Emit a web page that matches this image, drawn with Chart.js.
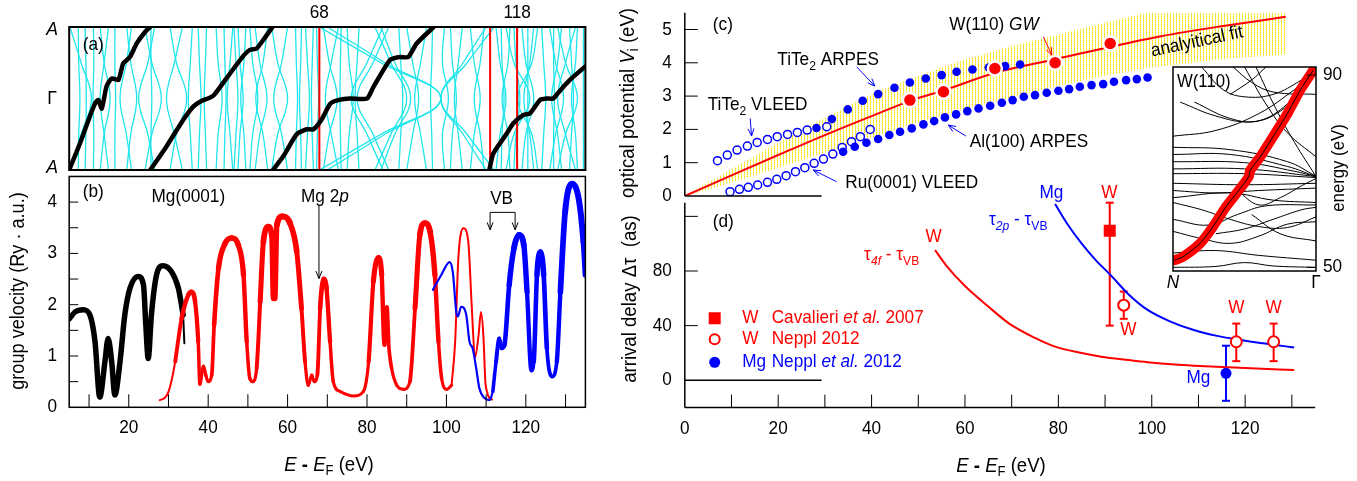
<!DOCTYPE html>
<html>
<head>
<meta charset="utf-8">
<script src="https://cdn.jsdelivr.net/npm/chart.js@4.4.1/dist/chart.umd.min.js"></script>
<style>
  body { margin: 0; background: #fff; }
  #wrap { position: relative; width: 1357px; height: 481px; }
  canvas { position: absolute; left: 0; top: 0; }
</style>
</head>
<body>
<div id="wrap">
  <canvas id="cA" width="1357" height="481"></canvas>
  <canvas id="cB" width="1357" height="481"></canvas>
  <canvas id="cC" width="1357" height="481"></canvas>
  <canvas id="cD" width="1357" height="481"></canvas>
  <canvas id="cI" width="1357" height="481"></canvas>
</div>
<script>
const W = 1357, H = 481;
const FONT = '"Liberation Sans", Arial, Helvetica, sans-serif';
const SX = 0.93;   // text is a little narrow in the original
const RED = '#ff0000', BLUE = '#0000ff', CYAN = '#1fe6ec';

// ---------- (a) Mg bands along A - Γ - A ----------
const kSteps = [-1, -0.5, 0, 0.5, 1];
// each band: energy at A, halfway, at Γ (mirrored about Γ)
const bandsA = [
  [5.2, 8.0, 10.6], [7.3, 7.4, 7.7], [9.0, 9.2, 9.3], [11.1, 11.2, 11.0],
  [12.8, 13.8, 15.3], [14.9, 13.8, 12.8], [16.5, 16.5, 16.7], [20.7, 19.4, 17.8],
  [19.5, 20.5, 22.0], [24.1, 25.8, 28.2], [26.5, 24.8, 22.5], [25.6, 25.6, 25.8],
  [30.4, 32.0, 34.6], [33.5, 31.5, 29.5], [36.0, 35.5, 35.0], [37.5, 37.8, 38.2],
  [39.6, 39.3, 39.0], [42.0, 42.5, 43.5], [44.0, 44.2, 44.5], [46.2, 45.5, 44.8],
  [47.5, 48.0, 48.8], [46.5, 47.0, 47.5], [49.5, 49.0, 48.2], [50.5, 51.2, 52.5],
  [51.8, 53.0, 54.8], [55.0, 53.8, 52.0], [56.0, 57.5, 60.0], [60.0, 58.5, 56.5],
  [62.0, 62.2, 62.5], [63.5, 63.3, 63.0], [64.5, 65.0, 65.5], [66.5, 66.2, 66.0],
  [67.3, 67.5, 67.8], [69.0, 70.5, 72.5], [72.8, 71.0, 69.5], [73.5, 73.3, 73.2],
  [68.0, 83.5, 98.6], [70.0, 84.5, 98.6], [84.0, 80.0, 76.0], [85.5, 81.5, 77.5],
  [82.0, 86.0, 90.0], [83.5, 87.0, 91.0], [78.0, 77.5, 77.0], [88.0, 88.5, 89.0],
  [75.0, 75.5, 76.5], [90.0, 91.5, 93.0], [95.0, 93.5, 92.0], [110.0, 104.2, 98.6],
  [112.0, 105.2, 98.6], [101.0, 101.5, 102.5], [104.0, 103.0, 102.0], [106.0, 107.0, 108.5],
  [109.5, 108.5, 107.0], [96.5, 96.3, 96.0], [99.5, 99.0, 100.5], [112.5, 113.5, 115.0],
  [116.0, 115.5, 114.0], [119.0, 120.0, 122.0], [122.0, 121.0, 119.5], [124.0, 124.5, 125.0],
  [126.0, 127.5, 129.5], [129.0, 128.0, 126.5], [131.0, 131.5, 132.0], [133.0, 132.5, 131.5],
  [134.5, 134.5, 134.5], [120.5, 120.5, 120.5], [127.0, 127.0, 127.2], [113.8, 114.0, 114.5],
  [117.0, 117.5, 118.5], [115.0, 117.0, 121.0], [123.0, 121.5, 118.0], [128.0, 130.0, 133.0],
  [132.5, 130.0, 128.0]
];
const aRedE = [68, 111, 117.8];
const aBlack1E = [5.0, 7.7, 10.2, 11.5, 12.3, 13.2, 14.4, 15.7, 17.4, 18.6, 20.3, 22.0, 24.1, 25.4];
const aBlack1K = [-1, -0.63, -0.25, -0.07, -0.02, -0.14, 0.17, 0.28, 0.26, 0.49, 0.58, 0.77, 0.93, 1.0];
const aBlack2E = [25.4, 29.5, 33.7, 36.3, 38.4, 40.4, 41.5, 45.5, 48.9, 50.5, 52.2, 53.9, 56.2];
const aBlack2K = [-1, -0.67, -0.3, -0.11, -0.03, 0.01, 0.05, 0.35, 0.6, 0.68, 0.7, 0.82, 1];
const aBlack3E = [56.3, 59, 62.3, 64.8, 66.5, 68.5, 70.8, 73, 75.7, 80, 81.6, 85.8, 88.3, 90.4, 92.5, 96.8];
const aBlack3K = [-1, -0.8, -0.5, -0.43, -0.43, -0.3, -0.07, -0.02, 0, 0, 0.16, 0.54, 0.58, 0.58, 0.77, 1];
const aBlack4E = [110.8, 111.8, 115.2, 116.8, 119.4, 121.0, 123.6, 125.2, 126.9, 128.6, 131.1, 135];
const aBlack4K = [-1, -0.77, -0.49, -0.35, -0.23, -0.21, -0.02, 0, 0, 0.11, 0.26, 0.45];

// ---------- (b) group velocity ----------
const bBlackE = [5.0, 6.5, 8.5, 10.2, 11.5, 12.7, 14.0, 14.8, 15.7, 16.5, 17.8, 19.0, 20.3, 22.4, 23.7, 24.3, 24.9, 25.7, 27.0, 28.6, 30.8, 32.5, 33.7];
const bBlackV = [1.72, 1.86, 1.90, 1.80, 1.28, 0.20, 0.89, 1.34, 0.89, 0.24, 0.89, 1.80, 2.32, 2.55, 2.39, 1.60, 0.95, 1.80, 2.58, 2.76, 2.64, 2.32, 1.80];
const bBlackTailE = [33.7, 34.0];
const bBlackTailV = [1.80, 1.25];
const bRed0E = [27.8, 29.0, 30.0, 31.0, 31.7];
const bRed0V = [0.14, 0.18, 0.30, 0.60, 0.89];
const bRedE = [31.7, 33.3, 35.0, 35.8, 36.7, 37.5, 37.9, 38.8, 39.4, 40.0, 40.9, 41.5, 42.6, 44.3, 45.9, 47.6, 48.9, 49.7, 50.5, 51.2, 52.2, 53.1, 53.9, 55.2, 56.0, 56.4, 56.8, 57.3, 58.6, 60.6, 62.3, 63.5, 64.4, 65.2, 66.1, 66.7, 67.5, 68.2, 69.1, 69.8, 70.7, 71.5, 73.2, 76.6, 79.1, 80.4, 81.6, 82.9, 83.7, 84.4, 85.0, 85.4, 86.2, 87.5, 89.2, 90.8, 92.1, 93.3, 94.6, 95.9, 97.1, 98.0, 98.8, 100.1, 101.3];
const bRedV = [0.89, 1.73, 2.19, 2.25, 2.06, 1.28, 0.45, 0.80, 0.63, 0.50, 0.63, 1.60, 2.71, 3.20, 3.30, 3.16, 2.58, 1.28, 0.56, 0.50, 0.76, 2.06, 3.23, 3.52, 3.36, 2.12, 2.12, 3.55, 3.72, 3.59, 3.04, 1.93, 0.89, 0.43, 0.63, 0.50, 0.63, 1.93, 2.50, 2.32, 1.28, 0.50, 0.31, 0.22, 0.31, 0.89, 2.45, 2.92, 2.58, 1.22, 1.95, 1.28, 0.76, 0.43, 0.35, 0.50, 1.93, 3.36, 3.59, 3.42, 2.58, 1.28, 0.56, 0.35, 0.43];
const bRed2E = [101.3, 102.2, 103.0, 104.3, 105.5, 106.4, 107.2, 108.1, 108.7, 109.3, 109.8, 110.2, 110.6, 111.5];
const bRed2V = [0.43, 1.28, 2.90, 3.49, 3.23, 1.93, 0.97, 1.41, 1.86, 1.41, 0.50, 0.31, 0.21, 0.15];
const bBlue0E = [96.6, 98.7, 100.8, 101.6, 102.5, 102.9, 103.7, 105.0, 105.8, 106.6, 107.5, 108.3, 109.6, 110.9, 111.7];
const bBlue0V = [2.29, 2.58, 2.83, 2.64, 1.85, 1.77, 1.96, 1.80, 1.28, 1.15, 0.76, 0.37, 0.18, 0.14, 0.31];
const bBlueE = [111.7, 112.5, 113.3, 113.9, 114.6, 115.8, 117.0, 118.3, 119.5, 120.3, 121.4, 122.0, 122.8, 123.7, 124.5, 125.3, 126.6, 127.8, 128.7, 129.9, 131.6, 133.3, 134.5, 135.0];
const bBlueV = [0.31, 0.89, 1.34, 1.15, 1.21, 2.38, 3.10, 3.36, 3.16, 2.25, 0.72, 0.89, 2.58, 3.03, 2.58, 1.15, 0.60, 0.89, 2.25, 3.81, 4.36, 4.07, 3.23, 2.58];
const bTicksX = [20, 40, 60, 80, 100, 120];
const bTicksY = [0, 1, 2, 3, 4];

// ---------- (c) optical potential ----------
const fitE = [0, 10, 20, 30, 40, 48.7, 55.6, 66.5, 79.8, 91.7, 102, 115, 128.7];
const fitV = [0, 0.62, 1.23, 1.83, 2.40, 2.88, 3.18, 3.70, 4.12, 4.50, 4.80, 5.10, 5.38];
const bandE = [0, 10, 20, 30, 40, 50, 60, 70, 80, 90, 100, 115, 128.7];
const bandHi = [0, 0.8, 1.6, 2.35, 3.05, 3.6, 4.1, 4.5, 4.85, 5.2, 5.5, 5.5, 5.5];
const bandLo = [0, 0.4, 0.85, 1.3, 1.75, 2.2, 2.6, 2.95, 3.3, 3.6, 3.85, 4.1, 4.25];
const tiVleedE = [7.0, 9.1, 11.2, 13.4, 15.5, 17.7, 19.8, 22.0, 24.1, 26.2, 30.4];
const tiVleedV = [1.06, 1.23, 1.38, 1.50, 1.61, 1.70, 1.78, 1.85, 1.91, 1.98, 2.08];
const tiArpesE = [28.2, 31.5, 34.9, 38.1, 41.4, 44.9, 48.2, 51.6, 55.0, 58.2, 61.6, 65.1, 68.6, 71.8];
const tiArpesV = [2.04, 2.31, 2.60, 2.86, 3.06, 3.25, 3.41, 3.53, 3.63, 3.73, 3.80, 3.86, 3.90, 3.95];
const ruVleedE = [9.7, 11.7, 13.6, 15.6, 17.7, 19.7, 21.7, 23.7, 25.7, 27.7, 29.7, 31.7, 33.7, 35.7, 37.6, 39.7];
const ruVleedV = [0.13, 0.20, 0.26, 0.33, 0.41, 0.50, 0.61, 0.73, 0.85, 0.98, 1.11, 1.26, 1.46, 1.63, 1.78, 2.00];
const alArpesE = [33.9, 36.4, 38.9, 41.4, 43.8, 46.1, 48.6, 51.1, 53.4, 55.7, 58.1, 60.5, 62.9, 65.4, 67.9, 70.2, 72.6, 75.0, 77.5, 80.0, 82.3, 84.6, 87.1, 89.6, 91.9, 94.5, 96.8, 99.1];
const alArpesV = [1.33, 1.48, 1.60, 1.71, 1.83, 1.93, 2.03, 2.15, 2.25, 2.36, 2.45, 2.55, 2.63, 2.71, 2.80, 2.88, 2.98, 3.03, 3.10, 3.16, 3.21, 3.28, 3.33, 3.36, 3.43, 3.48, 3.51, 3.56];
const gwE = [48.2, 55.4, 66.4, 79.3, 91.1];
const gwV = [2.88, 3.13, 3.83, 4.00, 4.58];
const cTicksY = [0, 1, 2, 3, 4, 5];

// ---------- (d) arrival delay ----------
const mgFitE = [79.3, 82, 85, 88, 91.2, 95, 99.1, 104, 109, 114, 119, 125, 130.5];
const mgFitT = [129, 114, 100, 88, 77, 63, 51.5, 43, 36.8, 32.5, 29.5, 26.5, 24];
const wFitE = [53.6, 56, 60, 65, 69.4, 75, 79.3, 85, 89.2, 95, 99.1, 105, 109, 120, 130.5];
const wFitT = [95.3, 84, 69, 54, 41.7, 31, 24.6, 20, 17.3, 14.8, 13.2, 11.5, 10.7, 9, 7.5];
const cavE = [91.0], cavT = [109.5], cavLo = [40], cavHi = [130];
const nepE = [94.0, 118.1, 126.1], nepT = [55, 28.2, 28.2], nepLo = [45, 14, 14], nepHi = [65, 41.5, 41.5];
const mgE = [115.9], mgT = [5.1], mgLo = [-15], mgHi = [25.3];
const dTicksX = [0, 20, 40, 60, 80, 100, 120];
const dTicksY = [0, 40, 80];

// ---------- inset W(110) bands N - Γ ----------
const insetLines = [
  [[0.05, 84.4], [0.3, 81.5], [0.55, 80.3], [0.75, 82.5], [0.95, 88.5]],
  [[0.15, 84.4], [0.4, 81.0], [0.6, 80.5], [0.8, 84.0], [0.97, 89.5]],
  [[0.5, 91.7], [0.65, 84], [0.8, 78], [1.0, 73]],
  [[0.58, 91.7], [0.72, 83], [0.85, 76], [1.0, 68.9]],
  [[0.42, 91.7], [0.55, 88.5], [0.7, 86.5], [1.0, 86]],
  [[0.4, 86], [0.55, 89], [0.65, 91.7]],
  [[0, 77.3], [0.3, 78.5], [0.6, 82], [0.85, 87], [1.0, 90.5]],
  [[0, 75], [0.4, 74.5], [0.8, 72], [1, 69]],
  [[0, 73.5], [0.4, 73.5], [0.8, 71], [1, 68.9]],
  [[0, 72], [0.5, 71.8], [0.85, 70], [1, 68.9]],
  [[0, 70.5], [0.5, 70.5], [1, 68.9]],
  [[0, 69.5], [0.5, 69.5], [1, 68.7]],
  [[0, 67.5], [0.5, 67.2], [1, 67.5]],
  [[0, 66], [0.3, 65.5], [0.6, 66], [1, 66.5]],
  [[0, 64.5], [0.4, 65.5], [0.7, 64], [1, 63.5]],
  [[0, 63.5], [0.2, 62], [0.4, 60], [0.6, 58.5], [0.8, 58.3], [1, 60.5]],
  [[0.3, 57], [0.5, 58], [0.7, 60], [0.9, 62], [1, 62.5]],
  [[0, 57.5], [0.2, 56], [0.4, 55], [0.6, 56.5], [0.8, 59], [1, 59.5]],
  [[0, 53], [0.3, 53.5], [0.6, 52.5], [1, 51.5]],
  [[0, 50], [0.3, 50.2], [0.5, 51], [0.7, 50.3], [1, 50]],
  [[0.45, 66], [0.6, 63], [0.75, 64.5], [0.9, 67], [1, 68.5]],
  [[0.55, 61], [0.75, 57], [1, 55.5]],
  [[0.2, 91.7], [0.35, 87], [0.5, 85.5], [0.7, 86], [0.9, 89], [1, 91]],
  [[0, 60], [0.25, 58.8], [0.45, 61], [0.65, 62.8], [1, 63]]
];
const insetRedK = [0.01, 0.07, 0.19, 0.28, 0.37, 0.47, 0.53, 0.54, 0.61, 0.70, 0.80, 0.89, 0.98];
const insetRedE = [51.5, 52.2, 55.0, 58.5, 62.6, 66.4, 68.9, 70.2, 73.0, 77.2, 82.0, 86.9, 91.0];

// ---------- helpers ----------
const pts = (xs, ys) => xs.map((x, i) => ({ x: x, y: ys[i] }));

function stack(list) {
  // list is bottom-to-top; chart.js draws lower order on top
  list.forEach((d, i) => { d.order = list.length - i; });
  return list;
}

function text(ctx, parts, x, y, o) {
  o = o || {};
  const size = o.size || 18.5;
  const segs = parts.map(p => typeof p === 'string' ? { t: p, f: '' } : { t: p[0], f: p[1] });
  let w = 0;
  segs.forEach(s => {
    s.sz = s.f.indexOf('s') >= 0 ? Math.round(size * 0.72) : size;
    s.font = (s.f.indexOf('i') >= 0 ? 'italic ' : '') + (s.f.indexOf('b') >= 0 ? 'bold ' : '') + s.sz + 'px ' + FONT;
    ctx.font = s.font;
    s.w = ctx.measureText(s.t).width;
    w += s.w;
  });
  ctx.save();
  ctx.translate(x, y);
  if (o.rot) ctx.rotate(o.rot * Math.PI / 180);
  ctx.scale(SX, 1);
  let cx = o.align === 'left' ? 0 : o.align === 'right' ? -w : -w / 2;
  ctx.fillStyle = o.color || '#000';
  ctx.textAlign = 'left';
  ctx.textBaseline = 'middle';
  segs.forEach(s => {
    ctx.font = s.font;
    ctx.fillText(s.t, cx, s.f.indexOf('s') >= 0 ? size * 0.32 : 0);
    cx += s.w;
  });
  ctx.restore();
}

function seg(ctx, x1, y1, x2, y2, color, w) {
  ctx.save();
  ctx.strokeStyle = color || '#000';
  ctx.lineWidth = w || 1;
  ctx.beginPath(); ctx.moveTo(x1, y1); ctx.lineTo(x2, y2); ctx.stroke();
  ctx.restore();
}

function arrow(ctx, x1, y1, x2, y2, color) {
  seg(ctx, x1, y1, x2, y2, color, 1);
  const a = Math.atan2(y2 - y1, x2 - x1), L = 8, s = 0.38;
  seg(ctx, x2, y2, x2 - L * Math.cos(a - s), y2 - L * Math.sin(a - s), color, 1);
  seg(ctx, x2, y2, x2 - L * Math.cos(a + s), y2 - L * Math.sin(a + s), color, 1);
}

// label / arrow in data coordinates
function T(c, parts, xv, yv, o) {
  text(c.ctx, parts, c.scales.x.getPixelForValue(xv), c.scales.y.getPixelForValue(yv), o);
}
function Arr(c, x1, y1, x2, y2, color) {
  const sx = c.scales.x, sy = c.scales.y;
  arrow(c.ctx, sx.getPixelForValue(x1), sy.getPixelForValue(y1), sx.getPixelForValue(x2), sy.getPixelForValue(y2), color);
}

function errBars(c, xs, lo, hi, color) {
  const ctx = c.ctx, sx = c.scales.x, sy = c.scales.y;
  xs.forEach((x, i) => {
    const X = sx.getPixelForValue(x), y1 = sy.getPixelForValue(lo[i]), y2 = sy.getPixelForValue(hi[i]);
    seg(ctx, X, y1, X, y2, color, 2);
    seg(ctx, X - 4, y1, X + 4, y1, color, 2);
    seg(ctx, X - 4, y2, X + 4, y2, color, 2);
  });
}

function vWidth(arr, base) {
  return c => Math.min(6, base + 0.9 * (arr[c.p0DataIndex].y + arr[c.p1DataIndex].y) / 2);
}

function dotPattern() {
  // thin vertical yellow stipple on white, like the original shading
  const p = document.createElement('canvas');
  p.width = 3; p.height = 2;
  const g = p.getContext('2d');
  g.fillStyle = '#fffef8'; g.fillRect(0, 0, 3, 2);
  g.fillStyle = '#f6e000'; g.fillRect(0, 0, 1, 1);
  g.fillStyle = '#fbef70'; g.fillRect(0, 1, 1, 1);
  return g.createPattern(p, 'repeat');
}

function makeChart(id, box, xr, yr, datasets, draw, under) {
  return new Chart(document.getElementById(id), {
    type: 'line',
    data: { datasets: datasets },
    options: {
      responsive: false,
      animation: false,
      devicePixelRatio: 1,
      layout: { padding: { left: box[0], top: box[1], right: W - box[2], bottom: H - box[3] } },
      plugins: { legend: { display: false }, tooltip: { enabled: false } },
      elements: { point: { radius: 0, hoverRadius: 0 }, line: { borderWidth: 1 } },
      scales: {
        x: { type: 'linear', display: false, min: xr[0], max: xr[1] },
        y: { type: 'linear', display: false, min: yr[0], max: yr[1] }
      }
    },
    plugins: [{
      id: 'deco' + id,
      beforeDatasetsDraw: c => { if (under) under(c); },
      afterDraw: c => draw(c)
    }]
  });
}

// ---------- panel (a) ----------
const cyanSets = bandsA.map(b => ({
  data: pts([b[0], b[1], b[2], b[1], b[0]], kSteps),
  borderColor: CYAN, borderWidth: 1.3, tension: 0.4, pointRadius: 0
}));
const redLines = aRedE.map(e => ({
  data: pts([e, e], [-1, 1]), borderColor: RED, borderWidth: 2, pointRadius: 0
}));
const blackA = [[aBlack1E, aBlack1K], [aBlack2E, aBlack2K], [aBlack3E, aBlack3K], [aBlack4E, aBlack4K]].map(s => ({
  data: pts(s[0], s[1]), borderColor: '#000', borderWidth: 4.5, tension: 0.2,
  borderCapStyle: 'round', borderJoinStyle: 'round', pointRadius: 0
}));

makeChart('cA', [69.2, 27, 585.4, 170], [5, 135], [-1, 1],
  stack([].concat(cyanSets, redLines, blackA)),
  c => {
    const ctx = c.ctx, a = c.chartArea;
    ctx.save();
    ctx.strokeStyle = '#000'; ctx.lineWidth = 2;
    ctx.strokeRect(a.left, a.top, a.right - a.left, a.bottom - a.top);
    ctx.restore();
    text(ctx, [['A', 'i']], a.left - 17, a.top + 3, { size: 19 });
    text(ctx, ['Γ'], a.left - 17, (a.top + a.bottom) / 2, { size: 19 });
    text(ctx, [['A', 'i']], a.left - 17, a.bottom - 2, { size: 19 });
    text(ctx, ['68'], c.scales.x.getPixelForValue(68), a.top - 14);
    text(ctx, ['118'], c.scales.x.getPixelForValue(117.8), a.top - 14);
    T(c, ['(a)'], 8.4, 0.75, { align: 'left' });
  });

// ---------- panel (b) ----------
const bRedPts = pts(bRedE, bRedV), bBluePts = pts(bBlueE, bBlueV);
const lineStyle = { pointRadius: 0, cubicInterpolationMode: 'monotone', borderCapStyle: 'round', borderJoinStyle: 'round' };
makeChart('cB', [69.2, 176.45, 585.4, 407.3], [5, 135], [0, 4.5],
  stack([
    Object.assign({ data: pts(bBlackE, bBlackV), borderColor: '#000', borderWidth: 5.5 }, lineStyle),
    Object.assign({ data: pts(bBlackTailE, bBlackTailV), borderColor: '#000', borderWidth: 2 }, lineStyle),
    Object.assign({ data: pts(bRed0E, bRed0V), borderColor: RED, borderWidth: 2 }, lineStyle),
    Object.assign({ data: bRedPts, borderColor: RED, borderWidth: 5, segment: { borderWidth: vWidth(bRedPts, 2.7) } }, lineStyle),
    Object.assign({ data: pts(bRed2E, bRed2V), borderColor: RED, borderWidth: 2 }, lineStyle),
    Object.assign({ data: pts(bBlue0E, bBlue0V), borderColor: BLUE, borderWidth: 2.2 }, lineStyle),
    Object.assign({ data: bBluePts, borderColor: BLUE, borderWidth: 5, segment: { borderWidth: vWidth(bBluePts, 3) } }, lineStyle)
  ]),
  c => {
    const ctx = c.ctx, a = c.chartArea, sx = c.scales.x, sy = c.scales.y;
    ctx.save();
    ctx.strokeStyle = '#000'; ctx.lineWidth = 1.5;
    ctx.strokeRect(a.left, a.top, a.right - a.left, a.bottom - a.top);
    ctx.restore();
    for (let v = 0.5; v <= 4.01; v += 0.5) {
      const y = sy.getPixelForValue(v);
      seg(ctx, a.left, y, a.left + 9, y, '#000', 1);
    }
    for (let e = 10; e <= 130; e += 10) {
      const x = sx.getPixelForValue(e);
      seg(ctx, x, a.bottom, x, a.bottom - 13, '#000', 1);
    }
    bTicksY.forEach(v => text(ctx, [String(v)], a.left - 17, sy.getPixelForValue(v)));
    bTicksX.forEach(e => text(ctx, [String(e)], sx.getPixelForValue(e), a.bottom + 21));
    T(c, ['(b)'], 8.4, 4.2, { align: 'left' });
    T(c, ['Mg(0001)'], 35.0, 4.1);
    T(c, ['Mg 2', ['p', 'i']], 69.4, 4.1);
    Arr(c, 67.9, 3.94, 67.9, 2.51, '#000');
    T(c, ['VB'], 113.9, 4.07);
    const x1 = sx.getPixelForValue(111), x2 = sx.getPixelForValue(117.3), yb = sy.getPixelForValue(3.8);
    seg(ctx, x1, yb, x2, yb, '#000', 1);
    Arr(c, 111, 3.8, 111, 3.46, '#000');
    Arr(c, 117.3, 3.8, 117.3, 3.46, '#000');
    text(ctx, ['group velocity (Ry · a.u.)'], 19, 291, { size: 19.5, rot: -90 });
    text(ctx, [['E', 'i'], ' ', ['-', 'b'], ' ', ['E', 'i'], ['F', 's'], ' (eV)'], 329, 465, { size: 20 });
  });

// ---------- panel (c) ----------
const openBlue = { showLine: false, pointRadius: 4, pointBorderWidth: 1.5, pointBorderColor: BLUE, pointBackgroundColor: '#fff' };
const fullBlue = { showLine: false, pointRadius: 4.3, pointBorderWidth: 0, pointBackgroundColor: BLUE };
makeChart('cC', [684.8, 12.85, 1315.2, 196], [0, 135], [0, 5.5],
  stack([
    { data: pts(bandE, bandLo), borderWidth: 0, pointRadius: 0, tension: 0.3, fill: false },
    { data: pts(bandE, bandHi), borderWidth: 0, pointRadius: 0, tension: 0.3, fill: '-1', backgroundColor: dotPattern() },
    { data: pts(fitE, fitV), borderColor: RED, borderWidth: 2, pointRadius: 0, cubicInterpolationMode: 'monotone' },
    Object.assign({ data: pts(ruVleedE, ruVleedV) }, openBlue),
    Object.assign({ data: pts(tiVleedE, tiVleedV) }, openBlue),
    Object.assign({ data: pts(tiArpesE, tiArpesV) }, fullBlue),
    Object.assign({ data: pts(alArpesE, alArpesV) }, fullBlue),
    { data: pts(gwE, gwV), showLine: false, pointRadius: 7, pointBorderWidth: 2.5, pointBorderColor: '#fff', pointBackgroundColor: RED }
  ]),
  c => {
    const ctx = c.ctx, a = c.chartArea, sx = c.scales.x, sy = c.scales.y;
    seg(ctx, a.left, a.top, a.left, a.bottom, '#000', 1.5);
    seg(ctx, a.left, a.bottom, sx.getPixelForValue(29.3), a.bottom, '#000', 1.5);
    for (let v = 1; v <= 5; v++) {
      const y = sy.getPixelForValue(v);
      seg(ctx, a.left, y, a.left + 13, y, '#000', 1);
    }
    cTicksY.forEach(v => text(ctx, [String(v)], a.left - 13, sy.getPixelForValue(v), { align: 'right' }));
    T(c, ['(c)'], 6.0, 5.13, { align: 'left' });
    T(c, ['W(110) ', ['GW', 'i']], 66.2, 5.13);
    Arr(c, 76.8, 4.78, 78.6, 4.23, RED);
    T(c, ['TiTe', ['2', 's'], ' ARPES'], 30.7, 4.08);
    Arr(c, 36.8, 3.88, 40.7, 3.3, BLUE);
    T(c, ['TiTe', ['2', 's'], ' VLEED'], 15.6, 2.73);
    Arr(c, 14.0, 2.33, 14.3, 1.8, BLUE);
    T(c, ['Al(100) ARPES'], 73.7, 1.63);
    Arr(c, 60.2, 1.8, 56.4, 2.13, BLUE);
    T(c, ['Ru(0001) VLEED'], 48.6, 0.38);
    Arr(c, 32.5, 0.43, 27.5, 0.78, BLUE);
    T(c, ['analyitical fit'], 109.7, 4.63, { rot: -12 });
    text(ctx, ['optical potential ', ['V', 'i'], ['i', 's'], ' (eV)'], 628, 103, { size: 20, rot: -90 });
  });

// ---------- panel (d) ----------
makeChart('cD', [684.8, 202.7, 1315.2, 407.6], [0, 135], [-20, 130],
  stack([
    { data: pts(wFitE, wFitT), borderColor: RED, borderWidth: 2, pointRadius: 0, cubicInterpolationMode: 'monotone' },
    { data: pts(mgFitE, mgFitT), borderColor: BLUE, borderWidth: 2, pointRadius: 0, cubicInterpolationMode: 'monotone' },
    { data: pts(cavE, cavT), showLine: false, pointStyle: 'rect', pointRadius: 8.5, pointBorderWidth: 0, pointBackgroundColor: RED },
    { data: pts(nepE, nepT), showLine: false, pointRadius: 5.5, pointBorderWidth: 2, pointBorderColor: RED, pointBackgroundColor: '#fff' },
    { data: pts(mgE, mgT), showLine: false, pointRadius: 5.5, pointBorderWidth: 0, pointBackgroundColor: BLUE }
  ]),
  c => {
    const ctx = c.ctx, a = c.chartArea, sx = c.scales.x, sy = c.scales.y;
    seg(ctx, a.left, a.top, a.left, a.bottom, '#000', 1.5);
    seg(ctx, a.left, a.bottom, a.right, a.bottom, '#000', 1.5);
    seg(ctx, a.left, sy.getPixelForValue(0), sx.getPixelForValue(29.3), sy.getPixelForValue(0), '#000', 1.5);
    [40, 80, 120].forEach(v => {
      const y = sy.getPixelForValue(v);
      seg(ctx, a.left, y, a.left + 13, y, '#000', 1);
    });
    for (let e = 10; e <= 130; e += 10) {
      const x = sx.getPixelForValue(e);
      seg(ctx, x, a.bottom, x, a.bottom - 13, '#000', 1);
    }
    dTicksY.forEach(v => text(ctx, [String(v)], a.left - 13, sy.getPixelForValue(v), { align: 'right' }));
    dTicksX.forEach(e => text(ctx, [String(e)], sx.getPixelForValue(e), a.bottom + 21));
    T(c, ['(d)'], 6.0, 116, { align: 'left' });
    T(c, ['Mg'], 78.5, 137, { color: BLUE });
    T(c, ['W'], 90.9, 137, { color: RED });
    T(c, ['τ', ['2p', 'is'], ' - τ', ['VB', 's']], 71.4, 117.3, { color: BLUE });
    T(c, ['W'], 53.3, 105, { color: RED });
    T(c, ['τ', ['4f', 'is'], ' - τ', ['VB', 's']], 44.3, 91.7, { color: RED });
    T(c, ['W'], 95.0, 36.8, { color: RED });
    T(c, ['W'], 118.1, 52.7, { color: RED });
    T(c, ['W'], 126.1, 52.7, { color: RED });
    T(c, ['Mg'], 110.0, 1.5, { color: BLUE });
    // legend
    const lx = sx.getPixelForValue(6.4);
    let ly = sy.getPixelForValue(45.4);
    ctx.fillStyle = RED; ctx.fillRect(lx - 6, ly - 6, 12, 12);
    T(c, ['W'], 12.3, 45.4, { align: 'left', color: RED });
    T(c, ['Cavalieri ', ['et al.', 'i'], ' 2007'], 18.6, 45.4, { align: 'left', color: RED });
    ly = sy.getPixelForValue(30);
    ctx.save(); ctx.strokeStyle = RED; ctx.lineWidth = 2;
    ctx.beginPath(); ctx.arc(lx, ly, 5, 0, Math.PI * 2); ctx.stroke(); ctx.restore();
    T(c, ['W'], 12.3, 30, { align: 'left', color: RED });
    T(c, ['Neppl 2012'], 18.6, 30, { align: 'left', color: RED });
    ly = sy.getPixelForValue(13.2);
    ctx.save(); ctx.fillStyle = BLUE;
    ctx.beginPath(); ctx.arc(lx, ly, 5.5, 0, Math.PI * 2); ctx.fill(); ctx.restore();
    T(c, ['Mg'], 12.3, 13.2, { align: 'left', color: BLUE });
    T(c, ['Neppl ', ['et al.', 'i'], ' 2012'], 18.6, 13.2, { align: 'left', color: BLUE });
    text(ctx, ['arrival delay Δτ  (as)'], 630, 299, { size: 20, rot: -90 });
    text(ctx, [['E', 'i'], ' ', ['-', 'b'], ' ', ['E', 'i'], ['F', 's'], ' (eV)'], 1001, 466, { size: 20 });
  },
  c => {
    errBars(c, cavE, cavLo, cavHi, RED);
    errBars(c, nepE, nepLo, nepHi, RED);
    errBars(c, mgE, mgLo, mgHi, BLUE);
  });

// ---------- inset ----------
const insetBlack = insetLines.map(l => ({
  data: l.map(p => ({ x: p[0], y: p[1] })), borderColor: '#000', borderWidth: 1, tension: 0.4, pointRadius: 0
}));
makeChart('cI', [1173, 67, 1316, 271], [0, 1], [49.25, 91.7],
  stack([].concat(insetBlack, [
    { data: pts(insetRedK, insetRedE), borderColor: RED, borderWidth: 10, pointRadius: 0, borderCapStyle: 'round', borderJoinStyle: 'round', tension: 0.2 },
    { data: pts(insetRedK, insetRedE), borderColor: '#000', borderWidth: 1, pointRadius: 0, tension: 0.2 }
  ])),
  c => {
    const ctx = c.ctx, a = c.chartArea, sy = c.scales.y;
    ctx.save();
    ctx.strokeStyle = '#000'; ctx.lineWidth = 1.5;
    ctx.strokeRect(a.left, a.top, a.right - a.left, a.bottom - a.top);
    ctx.restore();
    [50, 90].forEach(v => {
      const y = sy.getPixelForValue(v);
      seg(ctx, a.right - 9, y, a.right, y, '#000', 1);
      text(ctx, [String(v)], a.right + 7, y, { align: 'left' });
    });
    text(ctx, ['W(110)'], a.left + 4, a.top + 15, { align: 'left', size: 18 });
    text(ctx, [['N', 'i']], a.left, a.bottom + 12);
    text(ctx, ['Γ'], a.right, a.bottom + 12);
    text(ctx, ['energy (eV)'], 1339, 168, { size: 18, rot: -90 });
  },
  c => {
    const a = c.chartArea;
    c.ctx.fillStyle = '#fff';
    c.ctx.fillRect(a.left, a.top, a.right - a.left, a.bottom - a.top);
  });
</script>
</body>
</html>
